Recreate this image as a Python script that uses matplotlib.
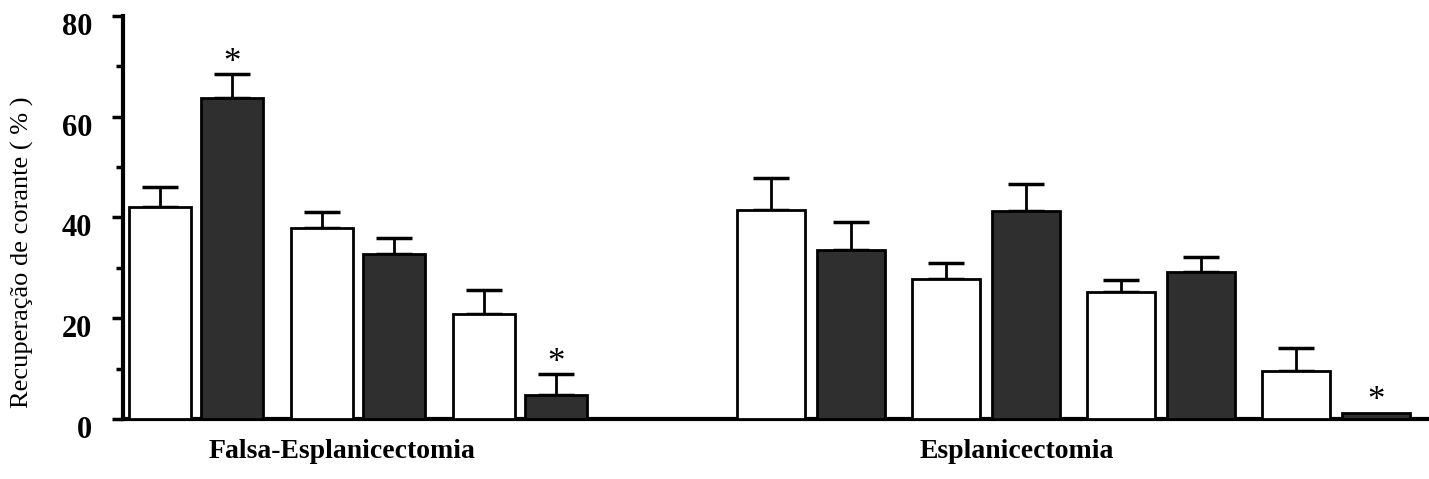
import numpy as np
import matplotlib
matplotlib.use("Agg")
import matplotlib.pyplot as plt
import matplotlib.transforms as mtransforms

# recuperacao de corante (%), barras brancas / escuras alternadas
sham_means = [42.1, 63.8, 38.0, 32.8, 20.9, 4.8]
sham_err = [3.9, 4.6, 3.0, 3.2, 4.7, 4.1]
sham_star = [False, True, False, False, False, True]

splan_means = [41.4, 33.6, 27.8, 41.2, 25.2, 29.2, 9.5, 1.2]
splan_err = [6.5, 5.6, 3.2, 5.5, 2.4, 3.0, 4.5, 0.0]
splan_star = [False, False, False, False, False, False, False, True]

group_labels = ["Falsa-Esplanicectomia", "Esplanicectomia"]
yticks = [0, 20, 40, 60, 80]

serif = ["Liberation Serif", "DejaVu Serif"]
plt.rcParams['font.family'] = serif

fig = plt.figure(figsize=(14.29, 4.79), dpi=100)
ax = fig.add_axes([123/1429, 60/479, 1 - 123/1429, (419-16)/479])


def positions(n, start, step, off):
    xs = []
    for i in range(n):
        pair = i // 2
        side = -1 if i % 2 == 0 else 1
        xs.append(start + pair*step + side*off)
    return np.array(xs)


def draw_group(xs, means, err, stars, width):
    for i, (x, m, e, s) in enumerate(zip(xs, means, err, stars)):
        dark = i % 2 == 1
        ax.bar(x, m, width=width, color='#2f2f2f' if dark else 'white',
               edgecolor='black', linewidth=2, zorder=3)
        if e > 0:
            ax.errorbar(x, m, yerr=[[0], [e]], fmt='none', ecolor='black',
                        elinewidth=2, capsize=13, capthick=2.5, zorder=2)
        if s:
            ax.text(x, m + e + 2.2, '*', ha='center', va='center',
                    fontsize=25, family=serif)


xs_sham = positions(len(sham_means), 196, 162, 36)
xs_splan = positions(len(splan_means), 811, 175, 40)
draw_group(xs_sham, sham_means, sham_err, sham_star, 62)
draw_group(xs_splan, splan_means, splan_err, splan_star, 68)

ax.set_xlim(123, 1429)
ax.set_ylim(0, 80)
ax.set_yticks(yticks)
ax.set_yticks([10, 30, 50, 70], minor=True)
ax.set_yticklabels([str(t) for t in yticks], fontsize=22, fontweight='bold')
ax.tick_params(axis='y', which='major', length=8, width=2.5, direction='out', pad=14)
ax.tick_params(axis='y', which='minor', length=5, width=2.5, direction='out')
# tick labels sit a little below their ticks in the original
shift = mtransforms.ScaledTranslation(0, -8/100, fig.dpi_scale_trans)
for lab in ax.get_yticklabels():
    lab.set_transform(lab.get_transform() + shift)
ax.set_xticks([])
for side in ['top', 'right']:
    ax.spines[side].set_visible(False)
ax.spines['left'].set_linewidth(3)
ax.spines['bottom'].set_linewidth(3)

ax.set_ylabel("Recuperação de corante ( % )", fontsize=19)
ax.yaxis.set_label_coords(-89/1306, 0.415)

ax.text(xs_sham.mean() - 16, -4, group_labels[0], ha='center', va='top',
        fontsize=20, fontweight='bold')
ax.text(xs_splan.mean() - 57, -4, group_labels[1], ha='center', va='top',
        fontsize=20, fontweight='bold')

fig.savefig("out.png", dpi=100)
